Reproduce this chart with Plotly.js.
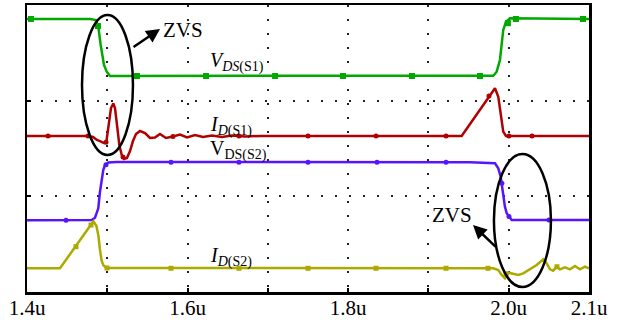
<!DOCTYPE html>
<html>
<head>
<meta charset="utf-8">
<script src="https://cdn.plot.ly/plotly-3.0.1.min.js"></script>
<style>html,body{margin:0;padding:0;background:#fff;}#chart{width:622px;height:324px;}</style>
</head>
<body>
<div id="chart"></div>
<script>
// Time axis (microseconds)
const tickVals = [1.4, 1.5, 1.6, 1.7, 1.8, 1.9, 2.0, 2.1];
const tickLabels = ['1.4u', '', '1.6u', '', '1.8u', '', '2.0u', '2.1u'];

// V_DS(S1) - green
const greenX = [1.400, 1.4785, 1.486, 1.489, 1.4918, 1.4938, 1.4959, 1.4993, 1.5034, 1.9808, 1.9850, 1.9891, 1.9912, 1.9932, 1.9966, 2.0016, 2.100];
const greenY = [2.854, 2.854, 2.843, 2.760, 2.582, 2.477, 2.373, 2.303, 2.258, 2.261, 2.303, 2.425, 2.600, 2.739, 2.825, 2.861, 2.854];
const greenMX = [1.405, 1.4884, 1.537, 1.623, 1.709, 1.7936, 1.8795, 1.9642, 1.999, 2.009, 2.0925];
const greenMY = [2.854, 2.780, 2.258, 2.258, 2.258, 2.258, 2.258, 2.258, 2.810, 2.854, 2.854];

// I_D(S1) - red
const redX = [1.400, 1.476, 1.4822, 1.4872, 1.4909, 1.4959, 1.499, 1.5021, 1.5046, 1.5075, 1.5096, 1.5121, 1.515, 1.518, 1.5208, 1.5245, 1.5283, 1.532, 1.5358, 1.5407, 1.547, 1.5532, 1.5594, 1.5656, 1.5731, 1.5818, 1.5906, 1.5993, 1.6092, 1.6192, 1.6304, 1.6429, 1.6553, 1.6715, 1.6902, 1.9414, 1.9829, 1.9870, 1.9891, 1.9912, 1.9932, 1.9966, 2.100];
const redY = [1.631, 1.631, 1.620, 1.589, 1.578, 1.557, 1.578, 1.746, 1.923, 1.970, 1.923, 1.746, 1.537, 1.432, 1.390, 1.401, 1.474, 1.578, 1.652, 1.683, 1.662, 1.610, 1.615, 1.652, 1.610, 1.625, 1.646, 1.615, 1.641, 1.620, 1.636, 1.620, 1.636, 1.625, 1.631, 1.631, 2.129, 2.041, 1.902, 1.767, 1.676, 1.631, 1.631];
const redMX = [1.4262, 1.476, 1.4984, 1.5196, 1.5818, 1.664, 1.750, 1.8347, 1.9219, 1.9754, 2.0003, 2.029];
const redMY = [1.631, 1.631, 1.565, 1.410, 1.625, 1.631, 1.631, 1.631, 1.631, 2.049, 1.631, 1.631];

// V_DS(S2) - blue
const blueX = [1.400, 1.4806, 1.4847, 1.4888, 1.4909, 1.493, 1.495, 1.4971, 1.5013, 1.5117, 1.9518, 1.9829, 1.987, 1.990, 1.9912, 1.9932, 1.9953, 1.9975, 2.0007, 2.0037, 2.100];
const blueY = [0.749, 0.753, 0.777, 0.875, 1.048, 1.188, 1.275, 1.327, 1.354, 1.359, 1.356, 1.345, 1.293, 1.205, 1.136, 0.996, 0.892, 0.823, 0.787, 0.753, 0.753];
const blueMX = [1.4486, 1.4984, 1.5794, 1.664, 1.750, 1.8359, 1.9219, 1.9915, 2.0003, 2.0501];
const blueMY = [0.749, 1.330, 1.356, 1.356, 1.356, 1.356, 1.356, 1.136, 0.790, 0.753];

// I_D(S2) - olive
const yellowX = [1.400, 1.4411, 1.4785, 1.4828, 1.4865, 1.489, 1.4909, 1.493, 1.4953, 1.4996, 1.9808, 1.987, 1.9912, 1.9953, 1.9995, 2.0057, 2.0119, 2.0181, 2.0265, 2.0348, 2.043, 2.0472, 2.0514, 2.0555, 2.0597, 2.0638, 2.0701, 2.0763, 2.0825, 2.0887, 2.095, 2.100];
const yellowY = [0.248, 0.248, 0.690, 0.737, 0.690, 0.585, 0.439, 0.324, 0.277, 0.251, 0.248, 0.230, 0.178, 0.143, 0.202, 0.188, 0.178, 0.195, 0.237, 0.282, 0.342, 0.300, 0.237, 0.223, 0.264, 0.237, 0.258, 0.237, 0.272, 0.237, 0.264, 0.248];
const yellowMX = [1.461, 1.4797, 1.4996, 1.5794, 1.664, 1.750, 1.8347, 1.9219, 1.9742, 1.9966, 2.0601];
const yellowMY = [0.474, 0.700, 0.251, 0.248, 0.248, 0.248, 0.248, 0.248, 0.248, 0.190, 0.264];

const GREEN = 'rgb(0,168,0)', RED = 'rgb(176,0,0)', BLUE = 'rgb(88,20,255)', OLIVE = 'rgb(172,170,0)';

function lineTrace(x, y, c) {
  return {x: x, y: y, type: 'scatter', mode: 'lines', line: {color: c, width: 2.5}, hoverinfo: 'skip'};
}
function markTrace(x, y, c, sym, sz) {
  return {x: x, y: y, type: 'scatter', mode: 'markers', marker: {color: c, symbol: sym, size: sz}, hoverinfo: 'skip'};
}

const data = [
  lineTrace(greenX, greenY, GREEN), markTrace(greenMX, greenMY, GREEN, 'square', 6),
  lineTrace(redX, redY, RED), markTrace(redMX, redMY, RED, 'circle', 5),
  lineTrace(blueX, blueY, BLUE), markTrace(blueMX, blueMY, BLUE, 'circle', 5),
  lineTrace(yellowX, yellowY, OLIVE), markTrace(yellowMX, yellowMY, OLIVE, 'square', 5),
  // carrier for the label-only axis
  {x: [], y: [], type: 'scatter', mode: 'lines', xaxis: 'x2', yaxis: 'y', hoverinfo: 'skip'}
];

const serif = 'Liberation Serif';
const axisCommon = {
  showline: true, linecolor: '#000', linewidth: 2.5, mirror: true,
  ticks: 'inside', ticklen: 4, tickwidth: 2, tickcolor: '#000',
  showgrid: true, gridcolor: '#222', gridwidth: 2, griddash: '2px,12px',
  zeroline: false, fixedrange: true
};

const layout = {
  width: 622, height: 324,
  margin: {l: 27, r: 33, t: 5, b: 32},
  paper_bgcolor: '#fff', plot_bgcolor: '#fff',
  showlegend: false,
  font: {family: serif, color: '#000'},
  xaxis: Object.assign({}, axisCommon, {
    range: [1.4, 2.1], tickmode: 'array', tickvals: tickVals, ticktext: tickLabels,
    showticklabels: false
  }),
  xaxis2: {
    overlaying: 'x', anchor: 'free', position: 0.017, side: 'bottom',
    range: [1.4, 2.1], tickmode: 'array', tickvals: tickVals, ticktext: tickLabels,
    ticks: 'outside', ticklen: 2, tickcolor: 'rgba(0,0,0,0)',
    showline: false, showgrid: false, zeroline: false, fixedrange: true,
    tickfont: {family: serif, size: 21, color: '#000'}
  },
  yaxis: Object.assign({}, axisCommon, {
    range: [0, 3], tickmode: 'array', tickvals: [0, 1, 2, 3], ticktext: ['', '', '', ''],
    showticklabels: false
  }),
  shapes: [
    {type: 'circle', xref: 'x', yref: 'y', x0: 1.4685, x1: 1.532, y0: 1.432, y1: 2.895, line: {color: '#000', width: 2.5}},
    {type: 'circle', xref: 'x', yref: 'y', x0: 1.9816, x1: 2.0526, y0: 0.052, y1: 1.442, line: {color: '#000', width: 2.5}}
  ],
  annotations: [
    {x: 1.5657, y: 2.749, ax: -28, ay: 19, text: '', showarrow: true, arrowhead: 2, arrowsize: 1.1, arrowwidth: 2.5, arrowcolor: '#000'},
    {x: 1.5943, y: 2.74, text: 'ZVS', showarrow: false, font: {family: serif, size: 21, color: '#000'}},
    {x: 1.9555, y: 0.700, ax: 24, ay: 23, text: '', showarrow: true, arrowhead: 2, arrowsize: 1.1, arrowwidth: 2.5, arrowcolor: '#000'},
    {x: 1.9293, y: 0.81, text: 'ZVS', showarrow: false, font: {family: serif, size: 21, color: '#000'}},
    {x: 1.6254, y: 2.404, xanchor: 'left', yanchor: 'middle', showarrow: false, text: '<i>V</i><sub><i>DS</i>(S1)</sub>', font: {family: serif, size: 20, color: '#000'}},
    {x: 1.6254, y: 1.735, xanchor: 'left', yanchor: 'middle', showarrow: false, text: '<i>I</i><sub><i>D</i>(S1)</sub>', font: {family: serif, size: 20, color: '#000'}},
    {x: 1.6254, y: 1.485, xanchor: 'left', yanchor: 'middle', showarrow: false, text: 'V<sub>DS(S2)</sub>', font: {family: serif, size: 20, color: '#000'}},
    {x: 1.6254, y: 0.366, xanchor: 'left', yanchor: 'middle', showarrow: false, text: '<i>I</i><sub><i>D</i>(S2)</sub>', font: {family: serif, size: 20, color: '#000'}}
  ]
};

Plotly.newPlot('chart', data, layout, {displayModeBar: false, staticPlot: true});
</script>
</body>
</html>
